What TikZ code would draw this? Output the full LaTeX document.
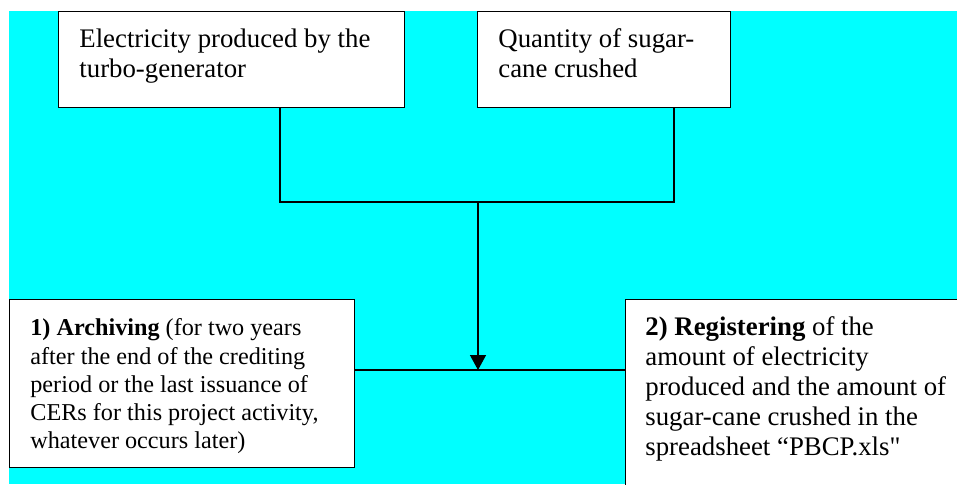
\documentclass[tikz,border=0pt]{standalone}
\usepackage{fontspec}
\setmainfont{Liberation Serif}[Ligatures=TeXOff]
\usetikzlibrary{arrows.meta,calc}
\definecolor{bgcyan}{RGB}{0,255,255}
\begin{document}
\begin{tikzpicture}[x=0.5pt,y=-0.5pt,
  boxshape/.style={draw=black,line width=0.7pt,fill=white,rectangle,inner sep=0pt,anchor=north west},
  boxtext/.style={anchor=north west,inner sep=0pt,align=left,font=\fontsize{13.4}{15}\selectfont},
  boxtextb/.style={anchor=north west,inner sep=0pt,align=left,font=\fontsize{12.1}{14.05}\selectfont},
  wire/.style={draw=black,line width=0.65pt}]
\useasboundingbox (0,0) rectangle (957,484);
\clip (0,0) rectangle (957,484);
\fill[bgcyan] (9,11) rectangle (957,484);
% boxes
\node[boxshape,minimum width=173pt,minimum height=48pt] (b1) at (58,11) {};
\node[boxshape,minimum width=126.5pt,minimum height=48pt] (b2) at (477,11) {};
\node[boxshape,minimum width=172.5pt,minimum height=84pt] (b3) at (9,299) {};
\node[boxshape,minimum width=175pt,minimum height=100pt] (b4) at (625,299) {};
% texts
\node[boxtext] (t1) at (79,28.4) {Electricity produced by the\\turbo-generator};
\node[boxtext] (t2) at (498,28.4) {Quantity of sugar-\\cane crushed};
\node[boxtextb] (t3) at (30,318.5) {\textbf{1) Archiving} (for two years\\after the end of the crediting\\period or the last issuance of\\CERs for this project activity,\\whatever occurs later)};
\node[boxtext] (t4) at (645,316.7) {\textbf{2) Registering} of the\\amount of electricity\\produced and the amount of\\sugar-cane crushed in the\\spreadsheet “PBCP.xls"};
% connectors
\coordinate (j1) at (280,202);
\coordinate (j2) at (674,202);
\coordinate (m) at (478,202);
\coordinate (tip) at (478,370);
\draw[wire] (b1.south -| j1) -- (j1) -- (j2) -- (b2.south -| j2);
\draw[wire,-{Triangle[length=7.5pt,width=8pt]}] (m) -- (tip);
\draw[wire] (b3.east |- tip) -- (b4.west |- tip);
\end{tikzpicture}
\end{document}
